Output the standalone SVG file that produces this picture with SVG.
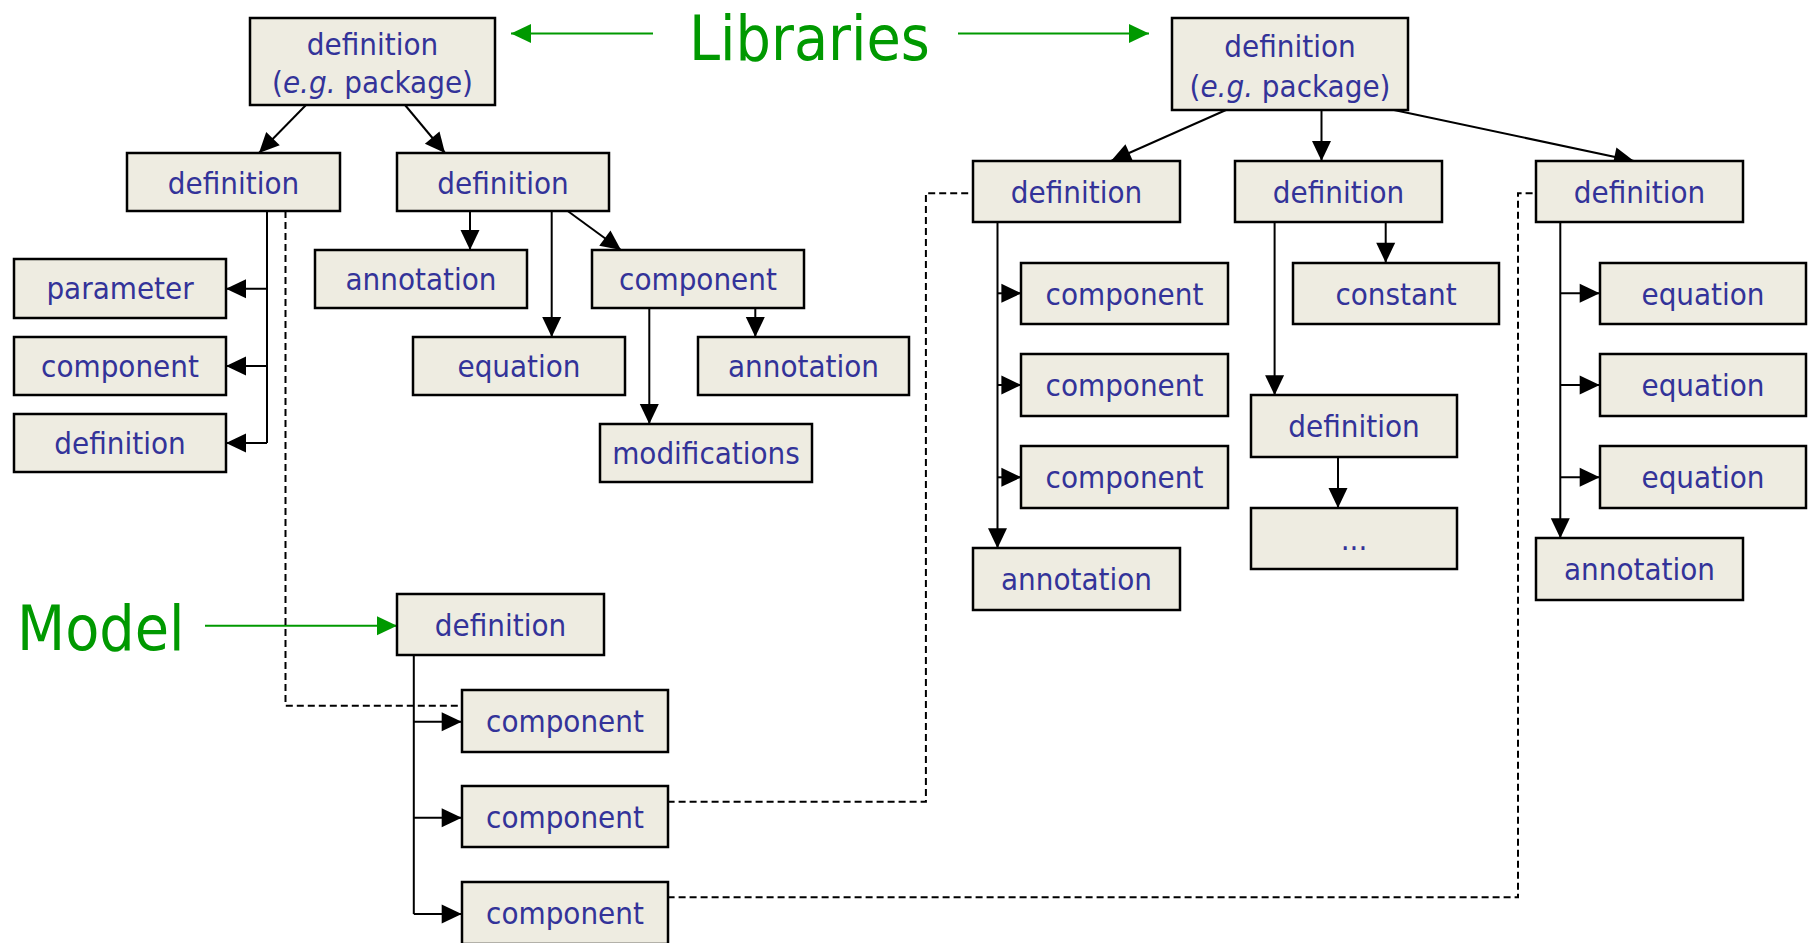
<svg xmlns="http://www.w3.org/2000/svg" width="1811" height="943" viewBox="0 0 1811 943">
<defs>
<style>
.box{fill:#EEECE1;stroke:#000;stroke-width:2.5}
.t{font-family:"DejaVu Sans Condensed","DejaVu Sans",sans-serif;font-size:31px;fill:#333399;text-anchor:middle}
.big{font-family:"DejaVu Sans Condensed","DejaVu Sans",sans-serif;font-size:62px;fill:#009900}
.c{fill:none;stroke:#000;stroke-width:2}
.a{fill:none;stroke:#000;stroke-width:2;marker-end:url(#ah)}
.d{fill:none;stroke:#000;stroke-width:2;stroke-dasharray:7 4}
.g{fill:none;stroke:#009900;stroke-width:2;marker-end:url(#gh)}
</style>
<marker id="ah" markerUnits="userSpaceOnUse" markerWidth="20" markerHeight="20" refX="20" refY="9.5" orient="auto" overflow="visible">
<path d="M0,0 L20,9.5 L0,19 Z" fill="#000"/>
</marker>
<marker id="gh" markerUnits="userSpaceOnUse" markerWidth="20" markerHeight="20" refX="20" refY="9.5" orient="auto" overflow="visible">
<path d="M0,0 L20,9.5 L0,19 Z" fill="#009900"/>
</marker>
</defs>
<rect width="1811" height="943" fill="#fff"/>

<g id="labels">
<text class="big" x="809.5" y="60" text-anchor="middle">Libraries</text>
<text class="big" x="17" y="650">Model</text>
</g>

<g id="connectors">
<path class="g" d="M653,33.5 H511"/>
<path class="g" d="M958,33.5 H1149"/>
<path class="g" d="M205,625.7 H397"/>
<path class="a" d="M306,105 L259,153"/>
<path class="a" d="M405,105 L445,153"/>
<path class="c" d="M267,211 V443"/>
<path class="a" d="M267,288.7 H226"/>
<path class="a" d="M267,366 H226"/>
<path class="a" d="M267,443 H226"/>
<path class="a" d="M470,211 V250"/>
<path class="a" d="M551.7,211 V337"/>
<path class="a" d="M567.7,211 L621,250"/>
<path class="a" d="M755.3,308 V337"/>
<path class="a" d="M649.3,308 V424"/>
<path class="a" d="M1226,110 L1111,161"/>
<path class="a" d="M1321.5,110 V161"/>
<path class="a" d="M1394,110 L1634,161"/>
<path class="a" d="M997.5,222 V548.3"/>
<path class="a" d="M997.5,293.3 H1021.4"/>
<path class="a" d="M997.5,385 H1021.4"/>
<path class="a" d="M997.5,477.3 H1021.4"/>
<path class="a" d="M1385.7,222 V262.7"/>
<path class="a" d="M1274.6,222 V395.3"/>
<path class="a" d="M1338,457 V508"/>
<path class="a" d="M1560.3,222 V538.3"/>
<path class="a" d="M1560.3,293.3 H1599.7"/>
<path class="a" d="M1560.3,385 H1599.7"/>
<path class="a" d="M1560.3,477.3 H1599.7"/>
<path class="c" d="M413.8,655 V914"/>
<path class="a" d="M413.8,721.7 H461.7"/>
<path class="a" d="M413.8,817.7 H461.7"/>
<path class="a" d="M413.8,914 H461.7"/>
<path class="d" d="M285.5,211 V705.7 H461.7"/>
<path class="d" d="M667.6,801.7 H925.9 V193.3 H973"/>
<path class="d" d="M667.6,897.3 H1518 V193.3 H1536"/>
</g>

<g id="pkgL"><rect class="box" x="250" y="18" width="245" height="87"/><text class="t" x="372.5" y="55">definition</text><text class="t" x="372.5" y="93">(<tspan font-style="italic">e.g.</tspan> package)</text></g>
<g id="defL1"><rect class="box" x="127" y="153" width="213" height="58"/><text class="t" x="233.5" y="194">definition</text></g>
<g id="defL2"><rect class="box" x="397" y="153" width="212" height="58"/><text class="t" x="503" y="194">definition</text></g>
<g id="param"><rect class="box" x="14" y="259" width="212" height="59"/><text class="t" x="120" y="299">parameter</text></g>
<g id="compL"><rect class="box" x="14" y="337" width="212" height="58"/><text class="t" x="120" y="377">component</text></g>
<g id="defL3"><rect class="box" x="14" y="414" width="212" height="58"/><text class="t" x="120" y="454">definition</text></g>
<g id="annL"><rect class="box" x="315" y="250" width="212" height="58"/><text class="t" x="421" y="290">annotation</text></g>
<g id="eqL"><rect class="box" x="413" y="337" width="212" height="58"/><text class="t" x="519" y="377">equation</text></g>
<g id="compM"><rect class="box" x="592" y="250" width="212" height="58"/><text class="t" x="698" y="290">component</text></g>
<g id="annM"><rect class="box" x="698" y="337" width="211" height="58"/><text class="t" x="803.5" y="377">annotation</text></g>
<g id="mods"><rect class="box" x="600" y="424" width="212" height="58"/><text class="t" x="706" y="464">modifications</text></g>

<g id="pkgR"><rect class="box" x="1172" y="18" width="236" height="92"/><text class="t" x="1290" y="57">definition</text><text class="t" x="1290" y="97">(<tspan font-style="italic">e.g.</tspan> package)</text></g>
<g id="defR1"><rect class="box" x="973" y="161" width="207" height="61"/><text class="t" x="1076.5" y="203">definition</text></g>
<g id="defR2"><rect class="box" x="1235" y="161" width="207" height="61"/><text class="t" x="1338.5" y="203">definition</text></g>
<g id="defR3"><rect class="box" x="1536" y="161" width="207" height="61"/><text class="t" x="1639.5" y="203">definition</text></g>
<g id="compR1"><rect class="box" x="1021" y="263" width="207" height="61"/><text class="t" x="1124.5" y="305">component</text></g>
<g id="compR2"><rect class="box" x="1021" y="354" width="207" height="62"/><text class="t" x="1124.5" y="396">component</text></g>
<g id="compR3"><rect class="box" x="1021" y="446" width="207" height="62"/><text class="t" x="1124.5" y="488">component</text></g>
<g id="annR1"><rect class="box" x="973" y="548" width="207" height="62"/><text class="t" x="1076.5" y="590">annotation</text></g>
<g id="const"><rect class="box" x="1293" y="263" width="206" height="61"/><text class="t" x="1396" y="305">constant</text></g>
<g id="defR2b"><rect class="box" x="1251" y="395" width="206" height="62"/><text class="t" x="1354" y="437">definition</text></g>
<g id="dots"><rect class="box" x="1251" y="508" width="206" height="61"/><text class="t" x="1354" y="550">...</text></g>
<g id="eqR1"><rect class="box" x="1600" y="263" width="206" height="61"/><text class="t" x="1703" y="305">equation</text></g>
<g id="eqR2"><rect class="box" x="1600" y="354" width="206" height="62"/><text class="t" x="1703" y="396">equation</text></g>
<g id="eqR3"><rect class="box" x="1600" y="446" width="206" height="62"/><text class="t" x="1703" y="488">equation</text></g>
<g id="annR3"><rect class="box" x="1536" y="538" width="207" height="62"/><text class="t" x="1639.5" y="580">annotation</text></g>

<g id="modelDef"><rect class="box" x="397" y="594" width="207" height="61"/><text class="t" x="500.5" y="636">definition</text></g>
<g id="mComp1"><rect class="box" x="462" y="690" width="206" height="62"/><text class="t" x="565" y="732">component</text></g>
<g id="mComp2"><rect class="box" x="462" y="786" width="206" height="61"/><text class="t" x="565" y="828">component</text></g>
<g id="mComp3"><rect class="box" x="462" y="882" width="206" height="62"/><text class="t" x="565" y="924">component</text></g>
</svg>
